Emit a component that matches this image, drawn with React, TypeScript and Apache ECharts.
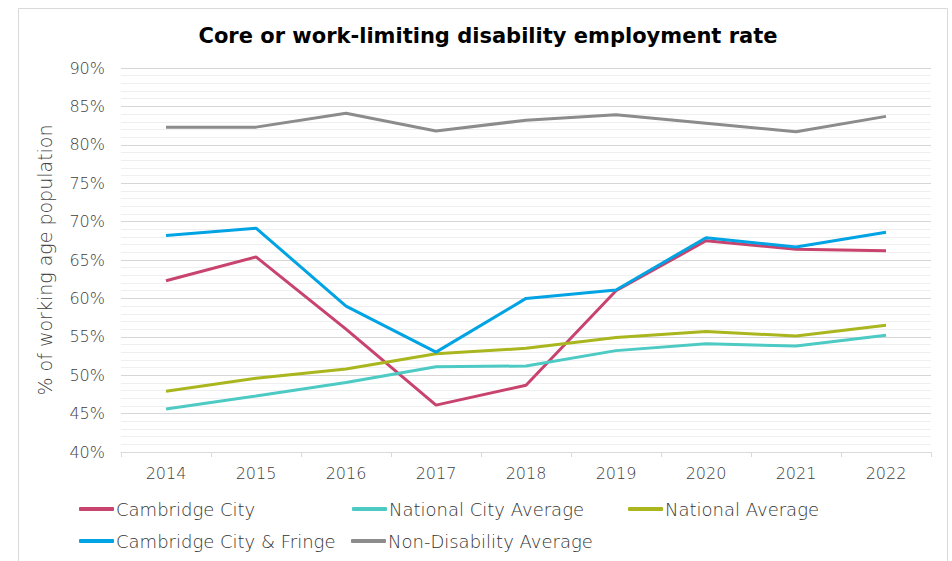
import React, { useEffect, useRef } from "react";
import * as echarts from "echarts";

const years = ["2014", "2015", "2016", "2017", "2018", "2019", "2020", "2021", "2022"];
const cambridgeCity = [62.3, 65.4, 56.0, 46.1, 48.7, 61.0, 67.5, 66.4, 66.2];
const nationalCityAverage = [45.6, 47.3, 49.05, 51.1, 51.2, 53.2, 54.1, 53.8, 55.2];
const nationalAverage = [47.9, 49.6, 50.8, 52.8, 53.5, 54.9, 55.7, 55.1, 56.5];
const cambridgeCityFringe = [68.2, 69.15, 59.0, 53.0, 60.0, 61.1, 67.9, 66.7, 68.6];
const nonDisabilityAverage = [82.3, 82.3, 84.1, 81.8, 83.2, 83.9, 82.8, 81.7, 83.7];

const seriesNames = [
  "Cambridge City",
  "National City Average",
  "National Average",
  "Cambridge City & Fringe",
  "Non-Disability Average",
];
const seriesData = [cambridgeCity, nationalCityAverage, nationalAverage, cambridgeCityFringe, nonDisabilityAverage];
const colors = ["#C8436E", "#4CCAC3", "#AAB61E", "#00A3E3", "#8C8C8C"];

const WIDE = "'DejaVu Sans', sans-serif";

export default function App() {
  const ref = useRef<HTMLDivElement>(null);
  useEffect(() => {
    if (!ref.current) return;
    const chart = echarts.init(ref.current, undefined, { renderer: "svg" });
    const legendPos = [
      { left: 79, top: 500 },
      { left: 352, top: 500 },
      { left: 628, top: 500 },
      { left: 79, top: 532 },
      { left: 351, top: 532 },
    ];
    chart.setOption({
      animation: false,
      backgroundColor: "#ffffff",
      color: colors,
      title: {
        text: "Core or work-limiting disability employment rate",
        left: 483,
        textAlign: "center",
        top: 20,
        textStyle: { fontFamily: WIDE, fontSize: 21, fontWeight: "bold", color: "#000000" },
      },
      graphic: [
        {
          type: "rect",
          shape: { x: 18.5, y: 8.5, width: 929, height: 600 },
          style: { fill: "none", stroke: "#d9d9d9", lineWidth: 1 },
          silent: true,
          z: -1,
        },
      ],
      legend: seriesNames.map((n, i) => ({
        data: [n],
        left: legendPos[i].left,
        top: legendPos[i].top,
        padding: 0,
        icon: "roundRect",
        itemWidth: 35,
        itemHeight: 4,
        itemGap: 0,
        selectedMode: false,
        textStyle: {
          fontFamily: WIDE,
          fontWeight: 200,
          fontSize: 18,
          color: "#333333",
          padding: [0, 0, 0, -3],
        },
      })),
      grid: { left: 121, right: 21, top: 68, bottom: 109 },
      xAxis: {
        type: "category",
        data: years,
        boundaryGap: true,
        axisLine: { lineStyle: { color: "#d9d9d9" } },
        axisTick: { show: true, length: 5, lineStyle: { color: "#d9d9d9" } },
        axisLabel: { fontFamily: WIDE, fontWeight: 200, fontSize: 16, color: "#404040", margin: 13 },
      },
      yAxis: {
        type: "value",
        min: 40,
        max: 90,
        interval: 5,
        name: "% of working age population",
        nameLocation: "middle",
        nameGap: 67,
        nameRotate: 90,
        nameTextStyle: { fontFamily: WIDE, fontWeight: 200, fontSize: 19, color: "#404040" },
        axisLine: { show: false },
        axisTick: { show: false },
        axisLabel: {
          fontFamily: WIDE,
          fontWeight: 200,
          fontSize: 16,
          color: "#404040",
          margin: 16,
          formatter: (v: number) => `${v}%`,
        },
        splitLine: { lineStyle: { color: "#d6d6d6", width: 1.2 } },
        minorTick: { show: false, splitNumber: 5 },
        minorSplitLine: { show: true, lineStyle: { color: "#efefef", width: 1 } },
      },
      series: seriesNames.map((n, i) => ({
        name: n,
        type: "line",
        data: seriesData[i],
        symbol: "none",
        lineStyle: { width: 3, color: colors[i] },
        itemStyle: { color: colors[i] },
      })),
    });
    return () => chart.dispose();
  }, []);
  return (
    <div
      ref={ref}
      style={{ position: "fixed", left: 0, top: 0, width: 952, height: 561, background: "#fff" }}
    />
  );
}
